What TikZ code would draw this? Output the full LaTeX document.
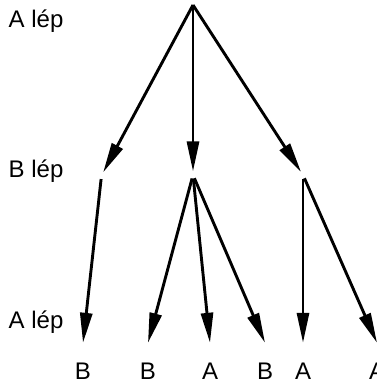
\documentclass[tikz,border=0pt]{standalone}
\usepackage{fontspec}
\setmainfont{Liberation Sans}
\usetikzlibrary{arrows.meta}
\begin{document}
\begin{tikzpicture}[x=1pt,y=-1pt,
  edge/.style={line width=2.9pt, -{Triangle[length=30pt,width=12pt]}},
  branch/.style={circle, inner sep=2.4pt},
  leaf/.style={inner sep=0pt, text height=36pt, text depth=0pt, anchor=base},
  lbl/.style={inner sep=0pt, anchor=base west},
  font=\fontsize{24}{28}\selectfont]
\useasboundingbox (0,0) rectangle (376,382);
% level labels
\node[lbl] (la) at (8.5,28) {A lép};
\node[lbl] (lb) at (8.5,177) {B lép};
\node[lbl] (lc) at (8.5,328) {A lép};
% tree
\coordinate (r) at (193,5);
\node[branch] (c1) at (101.5,175.5) {};
\node[branch] (c2) at (193,175) {};
\node[branch] (c3) at (303,175) {};
\node[leaf] (f1) at (83,379) {B};
\node[leaf] (f2) at (148,379) {B};
\node[leaf] (f3) at (210,379) {A};
\node[leaf] (f4) at (265,379) {B};
\node[leaf] (f5) at (303,379) {A};
\node[leaf] (f6) at (377,379) {A};
\draw[edge] (r) -- (c1);
\draw[edge] (r) -- (c2);
\draw[edge] (r) -- (c3);
\draw[edge] (c1) -- (f1.north);
\draw[edge] (c2) -- (f2.north);
\draw[edge] (c2) -- (f3.north);
\draw[edge] (c2) -- (f4.north);
\draw[edge] (c3) -- (f5.north);
\draw[edge] (c3) -- (f6.north);
\end{tikzpicture}
\end{document}
